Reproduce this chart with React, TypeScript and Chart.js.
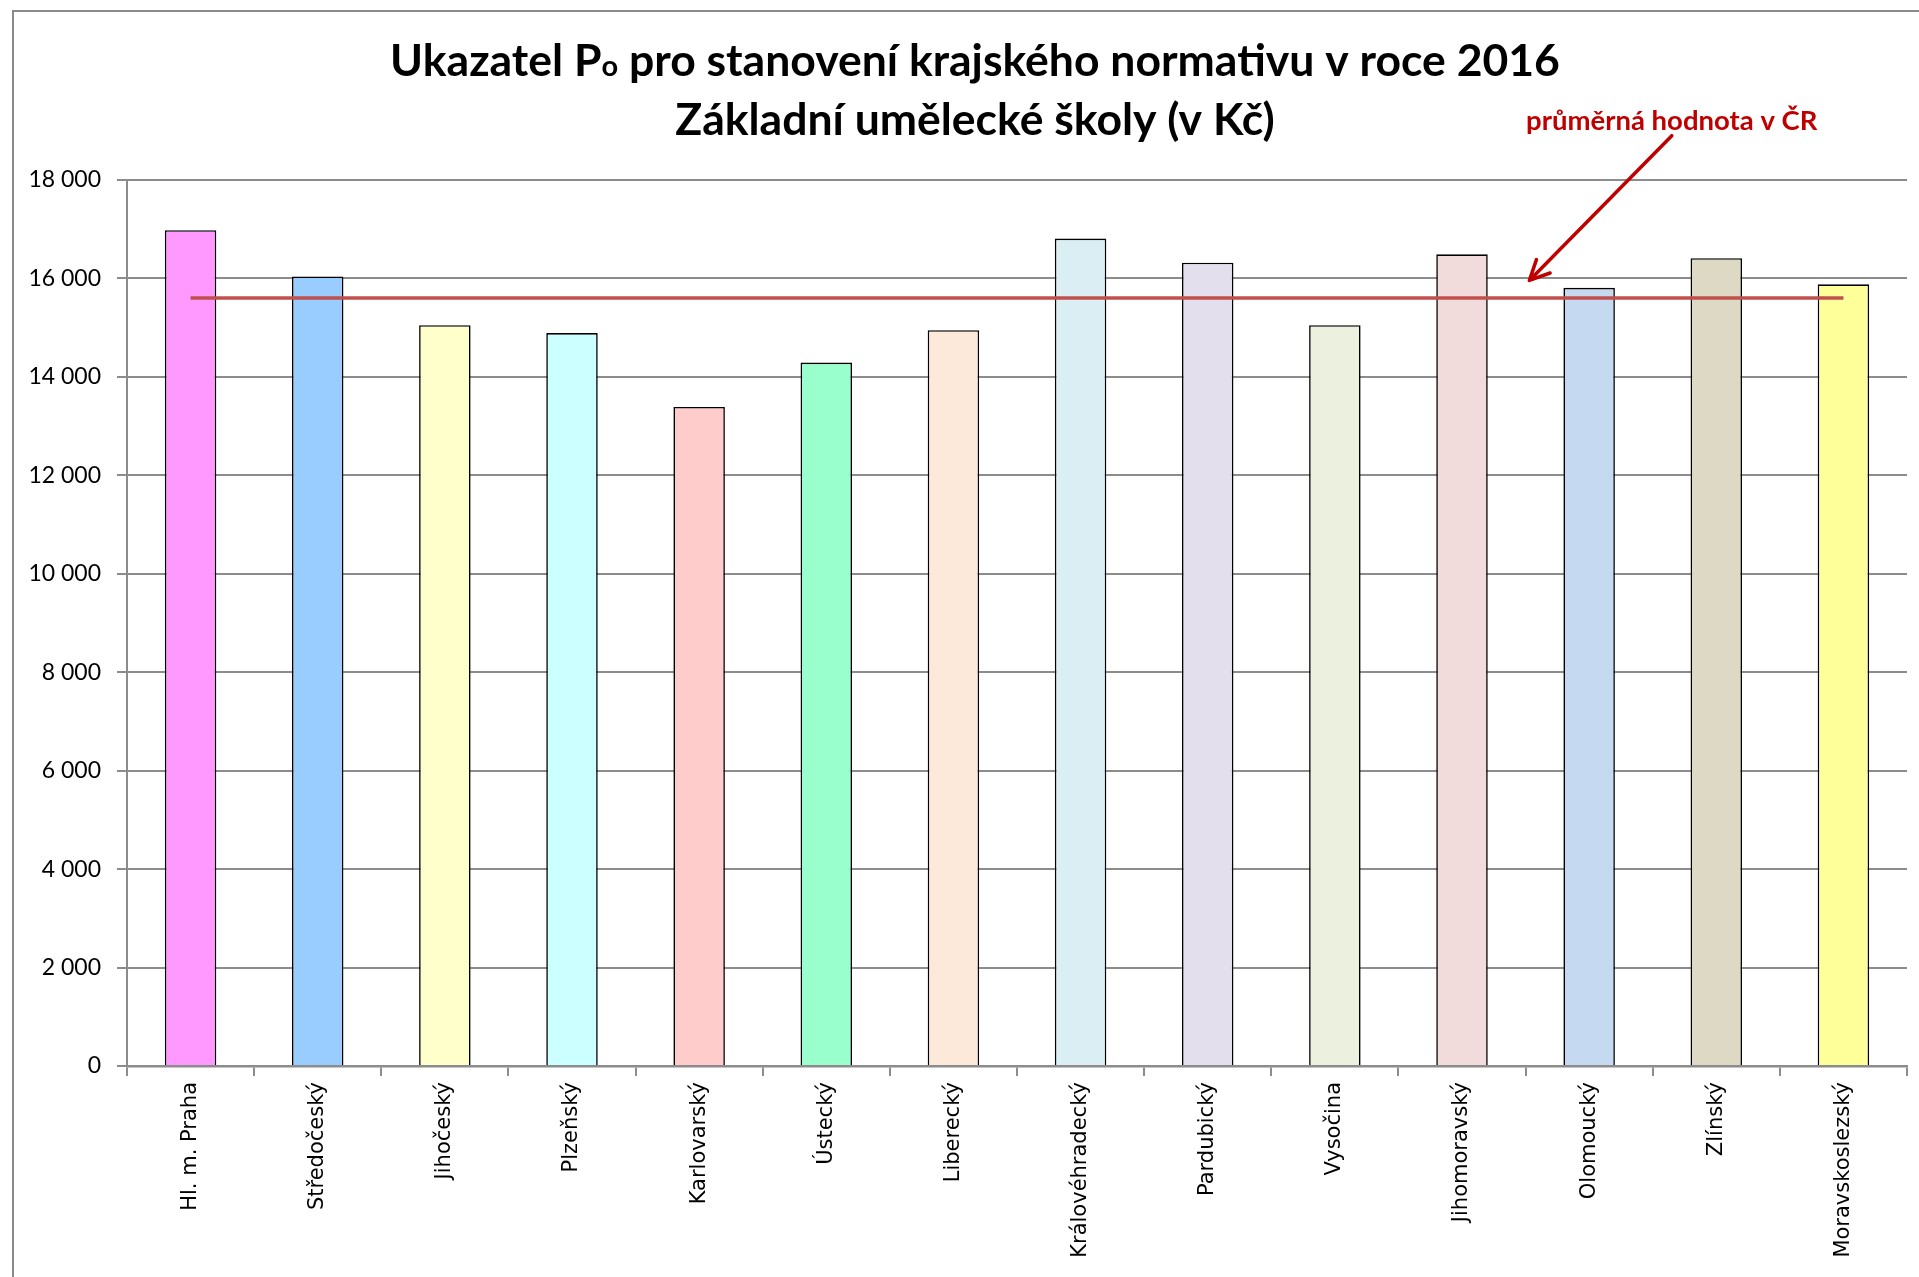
import React, { useEffect, useRef } from "react";
import { Chart, registerables } from "chart.js";

Chart.register(...registerables);

const CATEGORIES = [
  "Hl. m. Praha",
  "Středočeský",
  "Jihočeský",
  "Plzeňský",
  "Karlovarský",
  "Ústecký",
  "Liberecký",
  "Královéhradecký",
  "Pardubický",
  "Vysočina",
  "Jihomoravský",
  "Olomoucký",
  "Zlínský",
  "Moravskoslezský",
];

const VALUES = [16980, 16040, 15050, 14890, 13390, 14290, 14950, 16810, 16320, 15050, 16490, 15810, 16410, 15880];

const BAR_COLORS = [
  "#FF99FF",
  "#99CCFF",
  "#FFFFCC",
  "#CCFFFF",
  "#FFCCCC",
  "#99FFCC",
  "#FDE9D9",
  "#DAEEF3",
  "#E4DFEC",
  "#EBF1DE",
  "#F2DCDB",
  "#C5D9F1",
  "#DDD9C4",
  "#FFFF99",
];

const AVERAGE_VALUE = 15605;
const AVERAGE_LABEL = "průměrná hodnota v ČR";

const TITLE_LINE_1 = ["Ukazatel P", "o", " pro stanovení krajského normativu v roce 2016"];
const TITLE_LINE_2 = "Základní umělecké školy (v Kč)";

const Y_MIN = 0;
const Y_MAX = 18000;
const Y_STEP = 2000;

// arrow annotation anchors (category index / value space)
const ARROW_TIP = { x: 10.53, y: 15960 };
const ARROW_TAIL = { x: 11.65, y: 18900 };
const LABEL_POS = { x: 11.65, y: 19200 };

const formatThousands = (v: number) => String(v).replace(/\B(?=(\d{3})+(?!\d))/g, " ");

const decorPlugin = {
  id: "decor",
  beforeDraw(chart: any) {
    const ctx = chart.ctx;
    ctx.save();
    ctx.fillStyle = "#ffffff";
    ctx.fillRect(0, 0, chart.width, chart.height);
    ctx.strokeStyle = "#8a8a8a";
    ctx.lineWidth = 2;
    ctx.strokeRect(13, 11, chart.width + 40, chart.height + 40);
    ctx.restore();
  },
  afterDraw(chart: any) {
    const ctx = chart.ctx;
    const xs = chart.scales.x;
    const ys = chart.scales.y;
    ctx.save();
    // title
    ctx.fillStyle = "#000000";
    ctx.textBaseline = "alphabetic";
    ctx.textAlign = "left";
    const bigFont = "bold 44.5px Lato, 'Open Sans', sans-serif";
    const smallFont = "bold 29px Lato, 'Open Sans', sans-serif";
    const cx = 975;
    const fonts = [bigFont, smallFont, bigFont];
    const widths = TITLE_LINE_1.map((t, i) => {
      ctx.font = fonts[i];
      return ctx.measureText(t).width;
    });
    const total = widths.reduce((a, b) => a + b, 0);
    let x = cx - total / 2;
    TITLE_LINE_1.forEach((t, i) => {
      ctx.font = fonts[i];
      ctx.fillText(t, x, 76);
      x += widths[i];
    });
    ctx.font = bigFont;
    ctx.textAlign = "center";
    ctx.fillText(TITLE_LINE_2, cx, 135);

    // annotation label
    ctx.fillStyle = "#C00000";
    ctx.font = "bold 27.5px Lato, 'Open Sans', sans-serif";
    ctx.textBaseline = "middle";
    ctx.fillText(AVERAGE_LABEL, xs.getPixelForValue(LABEL_POS.x), ys.getPixelForValue(LABEL_POS.y));

    // arrow
    const tx = xs.getPixelForValue(ARROW_TAIL.x);
    const ty = ys.getPixelForValue(ARROW_TAIL.y);
    const hx = xs.getPixelForValue(ARROW_TIP.x);
    const hy = ys.getPixelForValue(ARROW_TIP.y);
    ctx.strokeStyle = "#C00000";
    ctx.lineWidth = 3.5;
    ctx.lineCap = "round";
    ctx.beginPath();
    ctx.moveTo(tx, ty);
    ctx.lineTo(hx, hy);
    const ang = Math.atan2(hy - ty, hx - tx);
    const hl = 22;
    const spread = 0.45;
    ctx.moveTo(hx, hy);
    ctx.lineTo(hx - hl * Math.cos(ang - spread), hy - hl * Math.sin(ang - spread));
    ctx.moveTo(hx, hy);
    ctx.lineTo(hx - hl * Math.cos(ang + spread), hy - hl * Math.sin(ang + spread));
    ctx.stroke();
    ctx.restore();
  },
};

export default function App() {
  const ref = useRef<HTMLCanvasElement | null>(null);

  useEffect(() => {
    document.body.style.margin = "0";
    const canvas = ref.current;
    if (!canvas) return;
    const chart = new Chart(canvas, {
      type: "bar",
      data: {
        labels: CATEGORIES,
        datasets: [
          {
            type: "line",
            label: AVERAGE_LABEL,
            data: CATEGORIES.map(() => AVERAGE_VALUE),
            borderColor: "#C0504D",
            borderWidth: 3.5,
            pointRadius: 0,
            fill: false,
            order: 0,
          } as any,
          {
            type: "bar",
            label: "Ukazatel Po",
            data: VALUES,
            backgroundColor: BAR_COLORS,
            borderColor: "#000000",
            borderWidth: 1.6,
            categoryPercentage: 1,
            barPercentage: 0.405,
            order: 1,
          },
        ],
      },
      plugins: [decorPlugin],
      options: {
        responsive: false,
        animation: false,
        devicePixelRatio: 1,
        layout: { padding: { top: 180, right: 12, left: 0, bottom: 0 } },
        plugins: {
          legend: { display: false },
          title: { display: false },
          tooltip: { enabled: false },
        },
        scales: {
          x: {
            offset: true,
            grid: {
              offset: true,
              drawOnChartArea: false,
              drawTicks: true,
              tickLength: 10,
              color: "#8c8c8c",
              lineWidth: 2,
            },
            border: { display: true, color: "#8c8c8c", width: 2.5 },
            ticks: {
              minRotation: 90,
              maxRotation: 90,
              autoSkip: false,
              padding: 6,
              color: "#000000",
              font: { family: "DejaVu Sans, Verdana, sans-serif", size: 21 },
            },
            afterFit(scale: any) {
              scale.height = 1277 - 1066;
            },
          },
          y: {
            min: Y_MIN,
            max: Y_MAX,
            grid: {
              color: "#8c8c8c",
              lineWidth: 2,
              drawTicks: true,
              tickLength: 10,
            },
            border: { display: true, color: "#8c8c8c", width: 2 },
            ticks: {
              stepSize: Y_STEP,
              padding: 16,
              color: "#000000",
              font: { family: "Lato, 'Open Sans', sans-serif", size: 23 },
              callback: (v: any) => formatThousands(Number(v)),
            },
            afterFit(scale: any) {
              scale.width = 127;
            },
          },
        },
      },
    });
    return () => chart.destroy();
  }, []);

  return (
    <div style={{ position: "absolute", left: 0, top: 0, width: 1919, height: 1277 }}>
      <canvas ref={ref} width={1919} height={1277} style={{ width: 1919, height: 1277, display: "block" }} />
    </div>
  );
}
